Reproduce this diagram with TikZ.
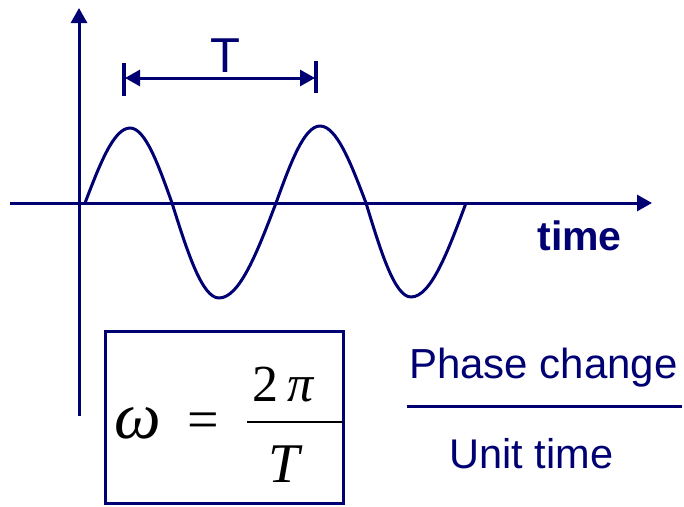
\documentclass[tikz,border=0pt]{standalone}
\usepackage{fontspec}
\setmainfont{Liberation Sans}
\newfontfamily\serifface{Liberation Serif}
\usetikzlibrary{arrows.meta}
\definecolor{navy}{RGB}{0,0,115}
\tikzset{
  axis/.style={draw=navy, line width=3pt, -{Triangle[length=15pt,width=16pt]}},
  wave/.style={draw=navy, line width=3pt, line join=round},
  tick/.style={draw=navy, line width=3.5pt},
  dimline/.style={draw=navy, line width=3pt, {Triangle[length=15pt,width=16pt]}-{Triangle[length=15pt,width=16pt]}},
  lbl/.style={inner sep=0pt, anchor=base, text=navy},
  mth/.style={inner sep=0pt, anchor=base, font=\serifface\fontsize{52}{52}\selectfont},
  frame/.style={draw=navy, line width=3pt},
}
\begin{document}
\begin{tikzpicture}[x=1pt,y=-1pt]
\useasboundingbox (0,0) rectangle (684,506);
% axes
\coordinate (xs) at (10,203);
\coordinate (xe) at (652,203);
\coordinate (ys) at (79,416);
\coordinate (ye) at (79,8);
\draw[axis] (xs) -- (xe);
\draw[axis] (ys) -- (ye);
% wave
\coordinate (w0) at (85,203);
\coordinate (w1) at (130,128);
\coordinate (w2) at (172,203);
\coordinate (w3) at (219,298);
\coordinate (w4) at (276,203);
\coordinate (w5) at (320,126);
\coordinate (w6) at (366,203);
\coordinate (w7) at (411,297);
\coordinate (w8) at (466,203);
\draw[wave] (w0) sin (w1) cos (w2) sin (w3) cos (w4) sin (w5) cos (w6) sin (w7) cos (w8);
% period marker
\coordinate (t1a) at (124,63);
\coordinate (t1b) at (124,96);
\coordinate (t2a) at (316,61);
\coordinate (t2b) at (316,93);
\coordinate (ta) at (125,78);
\coordinate (tb) at (315,78);
\draw[tick] (t1a) -- (t1b);
\draw[tick] (t2a) -- (t2b);
\draw[dimline] (ta) -- (tb);
\node[lbl, font=\fontsize{49}{49}\selectfont] (Tlbl) at (225.5,72) {T};
% time label
\node[lbl, font=\bfseries\fontsize{41}{41}\selectfont] (timelbl) at (579.5,250) {time};
% formula box
\coordinate (bx1) at (105,331);
\coordinate (bx2) at (343,503);
\draw[frame] (bx1) rectangle (bx2);
\node[mth, font=\serifface\itshape\fontsize{66}{66}\selectfont] (om) at (137.5,438) {ω};
\node[mth, font=\serifface\fontsize{56}{56}\selectfont] (eq) at (203.5,438) {=};
\node[mth] (num) at (283,401) {2\,\itshape π};
\node[mth, font=\serifface\itshape\fontsize{56}{56}\selectfont] (den) at (284,482) {T};
\coordinate (fb1) at (247,422);
\coordinate (fb2) at (343,422);
\draw[line width=2pt] (fb1) -- (fb2);
% phase change / unit time
\node[lbl, font=\fontsize{42}{42}\selectfont] (phase) at (543.5,378) {Phase change};
\node[lbl, font=\fontsize{41.5}{41.5}\selectfont] (unit) at (531.5,468) {Unit time};
\coordinate (pl1) at (407,406);
\coordinate (pl2) at (682,406);
\draw[navy, line width=3pt] (pl1) -- (pl2);
\end{tikzpicture}
\end{document}
